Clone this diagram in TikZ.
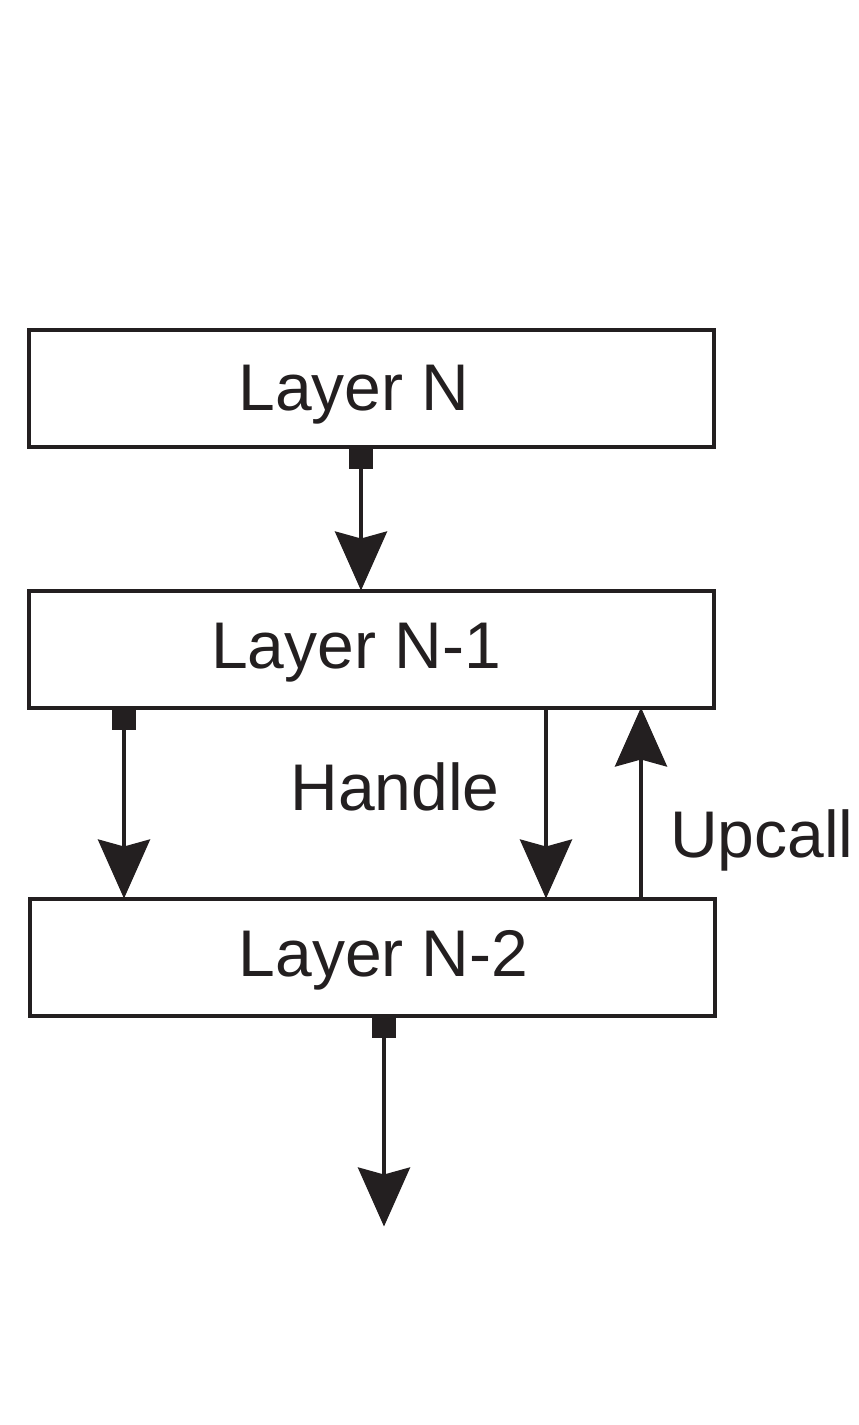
\documentclass[tikz,border=0pt]{standalone}
\usepackage{fontspec}
\setmainfont{Liberation Sans}
\usepackage{xcolor}
\usetikzlibrary{arrows.meta,positioning}
\definecolor{ink}{HTML}{231F20}

\begin{document}
\begin{tikzpicture}[x=0.5pt, y=-0.5pt, ->, >={Stealth[length=29.5pt, width=26pt, inset=3.5pt]},
	line width=2pt, draw=ink, ink,
	layer/.style={rectangle, draw=ink, minimum width=342.5pt, minimum height=58.5pt, inner sep=0pt, outer sep=0pt},
	port/.style={rectangle, fill=ink, minimum width=12pt, minimum height=11pt, inner sep=0pt, outer sep=0pt, anchor=north},
	caption/.style={font=\fontsize{33}{40}\selectfont, inner sep=0pt, text=ink}]
	\useasboundingbox (0,0) rectangle (858,1425);

	\node[layer] (ln)  at (371.5,388.5) {};
	\node[layer] (ln1) at (371,649)     {};
	\node[layer] (ln2) at (372.5,957)   {};

	\node[caption, anchor=base] (lnText)  at (354,410)   {Layer N};
	\node[caption, anchor=base] (ln1Text) at (356,668)   {Layer N-1};
	\node[caption, anchor=base] (ln2Text) at (383.5,976) {Layer N-2};
	\node[caption, anchor=base] (handle)  at (395,810)   {Handle};
	\node[caption, anchor=base west] (upcall) at (668,857) {Upcall};

	% handles held by the upper layers
	\node[port] (p1) at ([xshift=-5.25pt]ln.south)   {};
	\node[port] (p2) at ([xshift=-123.5pt]ln1.south) {};
	\node[port] (p3) at ([xshift=5.75pt]ln2.south)   {};
	\coordinate (hTop) at ([xshift=87.5pt]ln1.south);
	\coordinate (uBot) at ([xshift=134.25pt]ln2.north);
	\coordinate[below=105.5pt of ln2.south -| p3] (out);

	\draw (p1.south) -- (ln1.north -| p1);
	\draw (p2.south) -- (ln2.north -| p2);
	\draw (hTop) -- (ln2.north -| hTop);
	\draw (uBot) -- (ln1.south -| uBot);
	\draw (p3.south) -- (out);

\end{tikzpicture}
\end{document}
